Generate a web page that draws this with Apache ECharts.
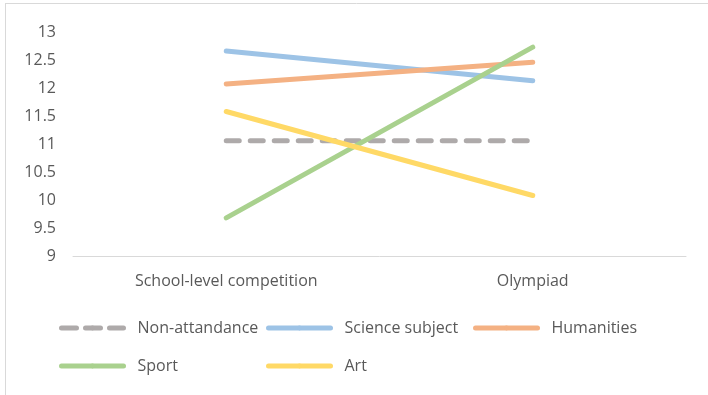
<!DOCTYPE html>
<html>
<head>
<meta charset="utf-8">
<script src="https://cdn.jsdelivr.net/npm/echarts@6/dist/echarts.min.js"></script>
<style>
  html, body { margin: 0; padding: 0; background: #fff; }
  #main { width: 708px; height: 395px; }
</style>
</head>
<body>
<div id="main"></div>
<script>
var categories = ['School-level competition', 'Olympiad'];
var nonAttendance = [11.06, 11.06];
var science = [12.66, 12.13];
var humanities = [12.07, 12.46];
var sport = [9.68, 12.73];
var art = [11.58, 10.08];

var myChart = echarts.init(document.getElementById('main'));
var font = 'Open Sans';
var txt = '#595959';

function line(name, data, color, dashed) {
    return {
        name: name,
        type: 'line',
        data: data,
        symbol: 'none',
        silent: true,
        lineStyle: {
            color: color,
            width: 5,
            cap: 'round',
            type: dashed ? [13, 11] : 'solid'
        },
        itemStyle: { color: color }
    };
}

function legendAt(name, left, top, dashed) {
    var ls = { width: 5, cap: 'round' };
    if (dashed) ls.type = [15, 9];
    return {
        data: [name],
        left: left,
        top: top,
        itemWidth: 62,
        itemHeight: 6,
        padding: 0,
        selectedMode: false,
        lineStyle: ls,
        textStyle: { color: txt, fontSize: 16, fontFamily: font, padding: [0, 0, 0, 9] }
    };
}

option = {
    animation: false,
    grid: { left: 73, right: 22, top: 32, bottom: 139 },
    legend: [
        legendAt('Non-attandance', 59, 320, true),
        legendAt('Science subject', 266, 320),
        legendAt('Humanities', 473, 320),
        legendAt('Sport', 59, 358),
        legendAt('Art', 266, 358)
    ],
    xAxis: {
        type: 'category',
        data: categories,
        axisLine: { lineStyle: { color: '#d9d9d9', width: 1 } },
        axisTick: { show: false },
        axisLabel: { color: txt, fontSize: 16, fontFamily: font, margin: 17 }
    },
    yAxis: {
        type: 'value',
        min: 9,
        max: 13,
        interval: 0.5,
        splitLine: { show: false },
        axisLine: { show: false },
        axisTick: { show: false },
        axisLabel: { color: txt, fontSize: 16, fontFamily: font, margin: 17 }
    },
    graphic: [
        { type: 'line', shape: { x1: 5, y1: 3.5, x2: 708, y2: 3.5 }, style: { stroke: '#d9d9d9', lineWidth: 1 } },
        { type: 'line', shape: { x1: 5.5, y1: 3, x2: 5.5, y2: 395 }, style: { stroke: '#d9d9d9', lineWidth: 1 } }
    ],
    series: [
        line('Non-attandance', nonAttendance, '#aeaaaa', true),
        line('Science subject', science, '#9dc3e6', false),
        line('Humanities', humanities, '#f4b183', false),
        line('Sport', sport, '#a9d18e', false),
        line('Art', art, '#ffd966', false)
    ]
};

myChart.setOption(option);
</script>
</body>
</html>
